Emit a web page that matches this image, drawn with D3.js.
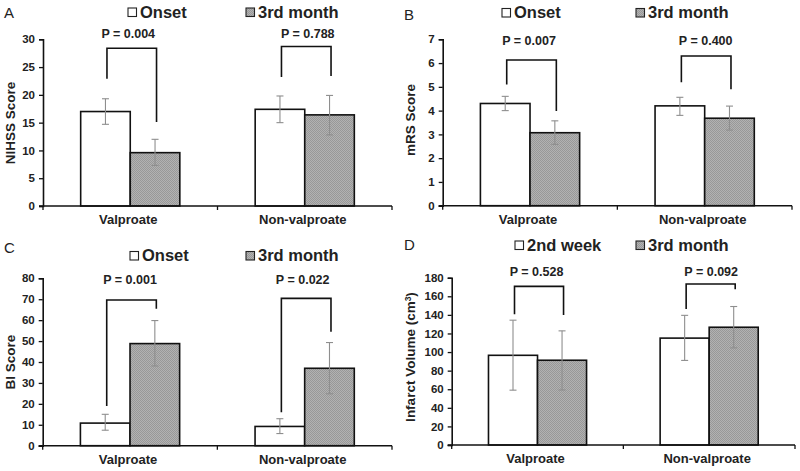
<!DOCTYPE html>
<html><head><meta charset="utf-8">
<script src="https://cdn.jsdelivr.net/npm/d3@7"></script>
<style>body{margin:0;background:#fff}svg{display:block}text{font-family:"Liberation Sans",Arial,sans-serif}</style>
</head><body>
<svg id="c" width="800" height="471"></svg>
<script>
// ---- data ----
const groups = ["Valproate", "Non-valproate"];

const nihssFirst = [17.0, 17.4];
const nihssFirstLo = [14.7, 15.0];
const nihssFirstHi = [19.3, 19.8];
const nihssThird = [9.6, 16.4];
const nihssThirdLo = [7.3, 12.8];
const nihssThirdHi = [12.0, 19.9];
const nihssTicks = [0, 5, 10, 15, 20, 25, 30];
const nihssP = ["P = 0.004", "P = 0.788"];
// bracket: [top, left leg end, right leg end]
const nihssBracket = [[28.4, 22.9, 15.1], [28.7, 23.2, 23.4]];

const mrsFirst = [4.3, 4.2];
const mrsFirstLo = [4.0, 3.8];
const mrsFirstHi = [4.6, 4.56];
const mrsThird = [3.07, 3.68];
const mrsThirdLo = [2.58, 3.18];
const mrsThirdHi = [3.57, 4.19];
const mrsTicks = [0, 1, 2, 3, 4, 5, 6, 7];
const mrsP = ["P = 0.007", "P = 0.400"];
const mrsBracket = [[6.13, 5.1, 3.98], [6.3, 5.19, 4.9]];

const biFirst = [10.8, 9.2];
const biFirstLo = [7.4, 5.8];
const biFirstHi = [15.0, 12.9];
const biThird = [48.8, 37.0];
const biThirdLo = [38.1, 24.8];
const biThirdHi = [59.8, 49.3];
const biTicks = [0, 10, 20, 30, 40, 50, 60, 70, 80];
const biP = ["P = 0.001", "P = 0.022"];
const biBracket = [[69.6, 19.0, 65.4], [70.4, 16.0, 54.5]];

const volFirst = [96.5, 115.0];
const volFirstLo = [59.0, 91.0];
const volFirstHi = [134.3, 139.5];
const volThird = [91.2, 126.7];
const volThirdLo = [59.2, 104.5];
const volThirdHi = [122.8, 149.0];
const volTicks = [0, 20, 40, 60, 80, 100, 120, 140, 160, 180];
const volP = ["P = 0.528", "P = 0.092"];
const volBracket = [[170.7, 140.6, 139.8], [173.2, 146.3, 167.5]];

const legendABC = ["Onset", "3rd month"];
const legendD = ["2nd week", "3rd month"];

// ---- drawing ----
const svg = d3.select("#c");
const defs = svg.append("defs");
const pat = defs.append("pattern").attr("id", "hatch").attr("patternUnits", "userSpaceOnUse")
  .attr("width", 2).attr("height", 2);
pat.append("rect").attr("width", 2).attr("height", 2).attr("fill", "#b2b2b2");
pat.append("rect").attr("width", 1).attr("height", 1).attr("fill", "#989898");
pat.append("rect").attr("x", 1).attr("y", 1).attr("width", 1).attr("height", 1).attr("fill", "#989898");

function panel(cfg) {
  const g = svg.append("g");
  const y = d3.scaleLinear().domain([0, cfg.max]).range([cfg.yb, cfg.yt]);
  const x = d3.scaleBand().domain(groups).range([cfg.x0, cfg.x1]).padding(0);
  const sub = d3.scaleBand().domain([0, 1]).range([0, x.bandwidth()]).paddingInner(0).paddingOuter(cfg.pad);

  const series = [
    {k: 0, v: cfg.first, lo: cfg.firstLo, hi: cfg.firstHi, fill: "#fff"},
    {k: 1, v: cfg.third, lo: cfg.thirdLo, hi: cfg.thirdHi, fill: "url(#hatch)"}
  ];

  // bars
  series.forEach(s => {
    groups.forEach((grp, i) => {
      const bx = x(grp) + sub(s.k);
      g.append("rect").attr("x", bx).attr("y", y(s.v[i]))
        .attr("width", sub.bandwidth()).attr("height", y(0) - y(s.v[i]))
        .attr("fill", s.fill).attr("stroke", "#111").attr("stroke-width", 1.6);
    });
  });
  // error bars
  series.forEach(s => {
    groups.forEach((grp, i) => {
      const cx = x(grp) + sub(s.k) + sub.bandwidth() / 2;
      const eg = g.append("g").attr("stroke", "#8e8e8e").attr("stroke-width", 1.1);
      eg.append("line").attr("x1", cx).attr("x2", cx).attr("y1", y(s.lo[i])).attr("y2", y(s.hi[i]));
      [s.lo[i], s.hi[i]].forEach(v => eg.append("line").attr("x1", cx - 3.5).attr("x2", cx + 3.5).attr("y1", y(v)).attr("y2", y(v)));
    });
  });

  // axes
  const ya = g.append("g").attr("transform", `translate(${cfg.x0},0)`)
    .call(d3.axisLeft(y).tickValues(cfg.ticks).tickFormat(d3.format("d")).tickSize(4).tickPadding(4));
  ya.select(".domain").attr("stroke", "#111").attr("stroke-width", 1.6);
  ya.selectAll(".tick line").attr("stroke", "#111").attr("stroke-width", 1.3);
  ya.selectAll("text").attr("font-size", 11.5).attr("font-weight", "bold").attr("fill", "#222")
    .style("font-family", "'Liberation Sans',Arial,sans-serif");

  const xa = g.append("g").attr("transform", `translate(0,${cfg.yb})`);
  xa.append("line").attr("x1", cfg.x0 - 4).attr("x2", cfg.x1).attr("stroke", "#111").attr("stroke-width", 1.6);
  [cfg.x0, x(groups[1]), cfg.x1].forEach(px =>
    xa.append("line").attr("x1", px).attr("x2", px).attr("y1", 0).attr("y2", 4).attr("stroke", "#111").attr("stroke-width", 1.3));
  groups.forEach(grp => {
    xa.append("text").attr("x", x(grp) + x.bandwidth() / 2 - 2).attr("y", 18)
      .attr("text-anchor", "middle").attr("font-size", 13).attr("font-weight", "bold").attr("fill", "#222").text(grp);
  });

  // y title
  const yt = g.append("text").attr("transform", `translate(${cfg.titleX},${cfg.titleY}) rotate(-90)`)
    .attr("text-anchor", "middle").attr("dy", "0.35em").attr("font-size", 13.5).attr("font-weight", "bold").attr("fill", "#222");
  yt.append("tspan").text(cfg.title);
  if (cfg.sup) {
    yt.append("tspan").attr("font-size", 8.5).attr("dy", "-0.45em").text(cfg.sup);
    yt.append("tspan").attr("dy", "0.3em").text(")");
  }

  // brackets and P values
  groups.forEach((grp, i) => {
    const lx = x(grp) + sub(0) + sub.bandwidth() / 2 + 1.5;
    const rx = x(grp) + sub(1) + sub.bandwidth() / 2 + 1.5;
    const b = cfg.bracket[i];
    g.append("path").attr("d", `M${lx},${y(b[1])}V${y(b[0])}H${rx}V${y(b[2])}`)
      .attr("fill", "none").attr("stroke", "#111").attr("stroke-width", 1.6);
    g.append("text").attr("x", x(grp) + x.bandwidth() / 2 + cfg.pdx[i]).attr("y", cfg.py)
      .attr("dy", "0.35em").attr("text-anchor", "middle").attr("font-size", 12.5).attr("font-weight", "bold").attr("fill", "#222")
      .text(cfg.p[i]);
  });

  // legend
  const fills = ["#fff", "url(#hatch)"];
  cfg.legend.forEach((lab, i) => {
    g.append("rect").attr("x", cfg.lx[i]).attr("y", cfg.ly - 4).attr("width", 8.5).attr("height", 8.5)
      .attr("fill", fills[i]).attr("stroke", "#222").attr("stroke-width", 1.1);
    g.append("text").attr("x", cfg.lx[i] + 12).attr("y", cfg.ly).attr("dy", "0.35em")
      .attr("font-size", 16.5).attr("font-weight", "bold").attr("fill", "#222").text(lab);
  });

  g.append("text").attr("x", cfg.letter[0]).attr("y", cfg.letter[1]).attr("dy", "0.35em")
    .attr("font-size", 15).attr("fill", "#222").text(cfg.name);
}

panel({name: "A", letter: [4, 13], x0: 43, x1: 392, yt: 39.3, yb: 206, max: 30, pad: 0.76,
  ticks: nihssTicks, first: nihssFirst, firstLo: nihssFirstLo, firstHi: nihssFirstHi,
  third: nihssThird, thirdLo: nihssThirdLo, thirdHi: nihssThirdHi,
  bracket: nihssBracket, p: nihssP, py: 34, pdx: [-2, 3], title: "NIHSS Score", titleX: 10, titleY: 123,
  legend: legendABC, lx: [128, 246], ly: 12});

panel({name: "B", letter: [404, 15], x0: 442.7, x1: 792, yt: 39.3, yb: 205.7, max: 7, pad: 0.76,
  ticks: mrsTicks, first: mrsFirst, firstLo: mrsFirstLo, firstHi: mrsFirstHi,
  third: mrsThird, thirdLo: mrsThirdLo, thirdHi: mrsThirdHi,
  bracket: mrsBracket, p: mrsP, py: 41, pdx: [-1, 1], title: "mRS Score", titleX: 410, titleY: 120,
  legend: legendABC, lx: [502, 636], ly: 12.5});

panel({name: "C", letter: [4, 248], x0: 42.7, x1: 392, yt: 278.3, yb: 445.7, max: 80, pad: 0.76,
  ticks: biTicks, first: biFirst, firstLo: biFirstLo, firstHi: biFirstHi,
  third: biThird, thirdLo: biThirdLo, thirdHi: biThirdHi,
  bracket: biBracket, p: biP, py: 280, pdx: [0, -2], title: "BI Score", titleX: 10, titleY: 362,
  legend: legendABC, lx: [130, 246], ly: 255.5});

panel({name: "D", letter: [404, 245], x0: 451.7, x1: 795, yt: 277.7, yb: 445, max: 180, pad: 0.75,
  ticks: volTicks, first: volFirst, firstLo: volFirstLo, firstHi: volFirstHi,
  third: volThird, thirdLo: volThirdLo, thirdHi: volThirdHi,
  bracket: volBracket, p: volP, py: 271.5, pdx: [-1, 2], title: "Infarct Volume (cm", sup: "3", titleX: 410, titleY: 357,
  legend: legendD, lx: [515, 636], ly: 245});
</script>
</body></html>
